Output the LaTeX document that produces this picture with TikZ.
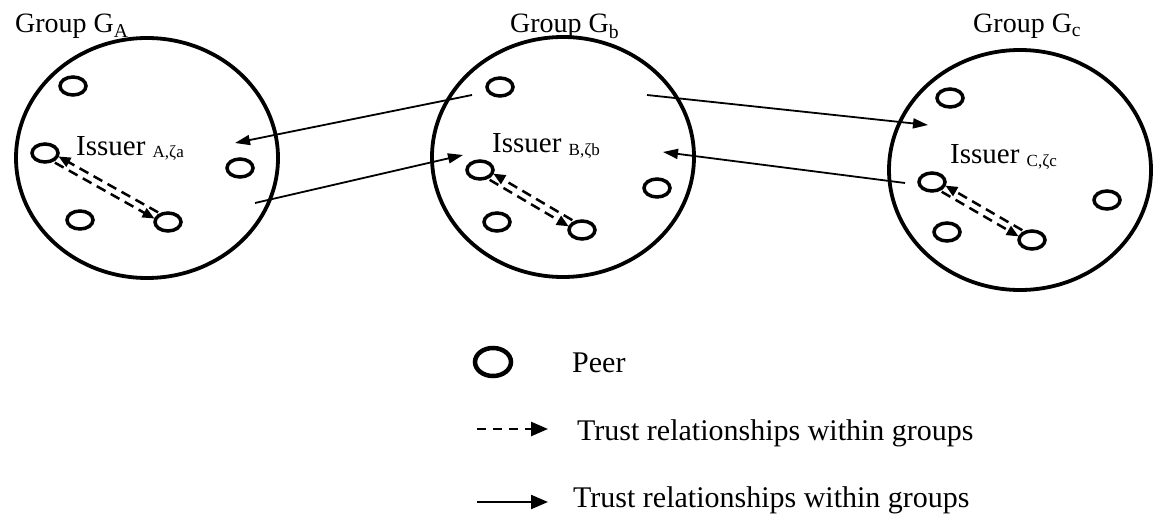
\documentclass[tikz,border=0pt]{standalone}
\usepackage{fontspec}
\setmainfont{Liberation Serif}
\usetikzlibrary{shapes.geometric,arrows.meta}
\newcommand{\issub}[1]{\raisebox{-2pt}{\fontsize{17}{20}\selectfont #1}}

\begin{document}
\begin{tikzpicture}[x=1pt, y=-1pt,
    group/.style={draw, ellipse, line width=3.8pt, minimum width=262pt, minimum height=240pt, inner sep=0pt},
    peer/.style={draw, ellipse, line width=3.5pt, minimum width=26pt, minimum height=18pt, inner sep=0pt},
    grouplabel/.style={anchor=base west, inner sep=0pt, font=\fontsize{28}{32}\selectfont},
    issuer/.style={anchor=base west, inner sep=0pt, font=\fontsize{29}{34}\selectfont},
    legendtext/.style={anchor=base west, inner sep=0pt, font=\fontsize{30}{36}\selectfont},
    intra/.style={dash pattern=on 10pt off 6pt, line width=2.5pt, -{Triangle[length=12pt,width=10pt]}},
    inter/.style={line width=1.8pt, -{Triangle[length=15pt,width=10pt]}}
]
    \useasboundingbox (0,0) rectangle (1156,516);

    % group A
    \node[group] (ga) at (147,158) {};
    \node[grouplabel] (la) at (15,33) {Group G\textsubscript{A}};
    \node[issuer] (ia) at (76,155) {Issuer \issub{A,ζa}};
    \node[peer] (pa1) at (73,86) {};
    \node[peer] (pa2) at (45,153) {};
    \node[peer] (pa3) at (240,168) {};
    \node[peer] (pa4) at (80,220) {};
    \node[peer] (pa5) at (168,222) {};
    \draw[intra, transform canvas={shift={(1.8pt,3.1pt)}}] (pa5) -- (pa2);
    \draw[intra, transform canvas={shift={(-1.8pt,-3.1pt)}}] (pa2) -- (pa5);

    % group B
    \node[group] (gb) at (563,157) {};
    \node[grouplabel] (lb) at (510,33) {Group G\textsubscript{b}};
    \node[issuer] (ib) at (492,153) {Issuer \issub{B,ζb}};
    \node[peer] (pb1) at (500,87) {};
    \node[peer] (pb2) at (480,170) {};
    \node[peer] (pb3) at (657,188) {};
    \node[peer] (pb4) at (497,222) {};
    \node[peer] (pb5) at (582,230) {};
    \draw[intra, transform canvas={shift={(1.8pt,3.1pt)}}] (pb5) -- (pb2);
    \draw[intra, transform canvas={shift={(-1.8pt,-3.1pt)}}] (pb2) -- (pb5);

    % group C
    \node[group] (gc) at (1020,170) {};
    \node[grouplabel] (lc) at (973,33) {Group G\textsubscript{c}};
    \node[issuer] (ic) at (950,164) {Issuer \issub{C,ζc}};
    \node[peer] (pc1) at (950,98) {};
    \node[peer] (pc2) at (932,182) {};
    \node[peer] (pc3) at (1107,200) {};
    \node[peer] (pc4) at (947,232) {};
    \node[peer] (pc5) at (1032,240) {};
    \draw[intra, transform canvas={shift={(1.8pt,3.1pt)}}] (pc5) -- (pc2);
    \draw[intra, transform canvas={shift={(-1.8pt,-3.1pt)}}] (pc2) -- (pc5);

    % trust between groups
    \coordinate (ba) at (472,95);
    \coordinate (ab) at (235,143);
    \coordinate (ao) at (255,203);
    \coordinate (bi) at (463,155);
    \coordinate (bc) at (647,95);
    \coordinate (cb) at (928,125);
    \coordinate (co) at (905,183);
    \coordinate (bj) at (663,152);
    \draw[inter] (ba) -- (ab);
    \draw[inter] (ao) -- (bi);
    \draw[inter] (bc) -- (cb);
    \draw[inter] (co) -- (bj);

    % legend
    \node[peer, minimum width=36pt, minimum height=28pt, line width=4.5pt] (lpeer) at (493,362) {};
    \node[legendtext] (tpeer) at (572,372) {Peer};
    \coordinate (ld1) at (477,429);
    \coordinate (ld2) at (548,429);
    \draw[intra, dash pattern=on 9pt off 7pt, -{Triangle[length=17pt,width=14pt]}] (ld1) -- (ld2);
    \node[legendtext] (tintra) at (577,440) {Trust relationships within groups};
    \coordinate (ls1) at (477,502);
    \coordinate (ls2) at (548,502);
    \draw[inter, line width=2.2pt, -{Triangle[length=17pt,width=14pt]}] (ls1) -- (ls2);
    \node[legendtext] (tinter) at (573,507) {Trust relationships within groups};
\end{tikzpicture}
\end{document}
